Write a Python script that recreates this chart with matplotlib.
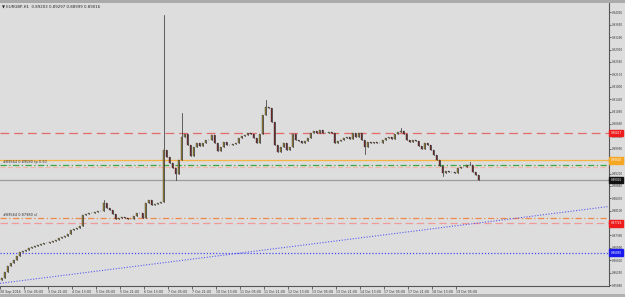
#!/usr/bin/env python3
"""EURGBP H1 - MT4 style screenshot remake"""
import numpy as np
import matplotlib.pyplot as plt
from matplotlib.patches import Rectangle
from matplotlib.transforms import blended_transform_factory

# 2-hour closes (30 Sep 13:00 .. 19 Oct 19:00)
closes = [
    0.86096, 0.86274, 0.86453, 0.86543, 0.86632, 0.86751, 0.86870, 0.86900, 0.86930, 0.86990,
    0.87019, 0.87049, 0.87079, 0.87109, 0.87139, 0.87139, 0.87168, 0.87198, 0.87228, 0.87288,
    0.87317, 0.87347, 0.87407, 0.87526, 0.87556, 0.87586, 0.87645, 0.87973, 0.88003, 0.88033,
    0.88033, 0.88062, 0.88092, 0.88092, 0.88331, 0.88182, 0.88122, 0.88003, 0.87854, 0.87884,
    0.87913, 0.87884, 0.87854, 0.87854, 0.87943, 0.88033, 0.88033, 0.87884, 0.88331, 0.88420,
    0.88271, 0.88301, 0.88331, 0.88360, 0.89910, 0.89701, 0.89523, 0.89374, 0.89195, 0.89612,
    0.90297, 0.90387, 0.90059, 0.89731, 0.89999, 0.90119, 0.90029, 0.90119, 0.90208, 0.90208,
    0.90357, 0.90119, 0.89880, 0.89999, 0.90148, 0.90059, 0.90059, 0.90089, 0.90119, 0.90268,
    0.90327, 0.90357, 0.90417, 0.90387, 0.90268, 0.90119, 0.90387, 0.90953, 0.91191, 0.91162,
    0.90744, 0.90059, 0.89850, 0.89999, 0.90119, 0.89910, 0.89999, 0.90387, 0.90208, 0.90178,
    0.90119, 0.90178, 0.90268, 0.90417, 0.90476, 0.90417, 0.90506, 0.90417, 0.90417, 0.90446,
    0.90417, 0.90119, 0.90178, 0.90208, 0.90268, 0.90297, 0.90238, 0.90417, 0.90297, 0.90417,
    0.90208, 0.89999, 0.90148, 0.90119, 0.90148, 0.90119, 0.90119, 0.90208, 0.90268, 0.90297,
    0.90238, 0.90387, 0.90446, 0.90476, 0.90387, 0.90208, 0.90148, 0.90208, 0.90178, 0.90029,
    0.89940, 0.90119, 0.90059, 0.89910, 0.89761, 0.89612, 0.89433, 0.89225, 0.89284, 0.89254,
    0.89254, 0.89225, 0.89374, 0.89403, 0.89403, 0.89463, 0.89463, 0.89254, 0.89165, 0.89016,
]
first_open = 0.86030

# candles with visible wicks: index, high, low
wick_idx = [34, 54, 58, 60, 88, 121, 133, 147, 156]
wick_high = [0.88420, 0.93933, None, 0.91013, 0.91400, None, 0.90566, None, 0.89552]
wick_low = [None, 0.88360, 0.89016, None, None, 0.89791, None, 0.89135, None]

# horizontal levels
level_prices = [0.90417, 0.89603, 0.89478, 0.89403, 0.89016, 0.87875, 0.87726, 0.86850]
level_colors = ['#e36b6b', '#f5b342', '#3aa845', '#f2b8a8', '#9c9c9c', '#f08a4b', '#f09a9a', '#4a4af0']
level_styles = [(0, (7, 4)), '-', (0, (5, 2, 1, 2)), (0, (4, 2)), '-', (0, (5, 2, 1, 2)), (0, (6, 3)), (0, (1, 1.5))]

# price tags on the axis
tag_prices = [0.90417, 0.89603, 0.89016, 0.87726, 0.86850]
tag_colors = ['#ee1c1c', '#f5a623', '#111111', '#ee1c1c', '#1a1aee']

# trend line (hour index, price)
trend_x = [0, 406]
trend_y = [0.85932, 0.88226]

price_ticks = [0.94020, 0.93650, 0.93280, 0.92910, 0.92540, 0.92170, 0.91800, 0.91430,
               0.91060, 0.90690, 0.90320, 0.89950, 0.89580, 0.89210, 0.88840, 0.88470,
               0.88100, 0.87730, 0.87360, 0.86990, 0.86620, 0.86250, 0.85880]
hidden_ticks = [0.89580, 0.87730]  # sit under the orange / red tags
date_labels = ['30 Sep 2016', '3 Oct 05:00', '3 Oct 21:00', '4 Oct 13:00', '5 Oct 05:00',
               '5 Oct 21:00', '6 Oct 13:00', '7 Oct 05:00', '7 Oct 21:00', '10 Oct 13:00',
               '11 Oct 05:00', '11 Oct 21:00', '12 Oct 13:00', '13 Oct 05:00', '13 Oct 21:00',
               '14 Oct 13:00', '17 Oct 05:00', '17 Oct 21:00', '18 Oct 13:00', '19 Oct 05:00']

bg = '#dddddd'
fig = plt.figure(figsize=(6.25, 2.97), dpi=100, facecolor=bg)
ax = fig.add_axes([0, 1 - 286 / 297, 609 / 625, 283 / 297])
ax.set_facecolor(bg)

hours = np.arange(1, 2 * len(closes), 2)
opens = [first_open] + closes[:-1]

# levels + trend
for p, c, ls in zip(level_prices, level_colors, level_styles):
    ax.axhline(p, color=c, linestyle=ls, linewidth=0.9, zorder=1)
ax.plot(trend_x, trend_y, color='#5a5af0', linestyle=(0, (1, 1.5)), linewidth=0.8, zorder=1)

# wicks
for i, h in enumerate(hours):
    hi = max(opens[i], closes[i])
    lo = min(opens[i], closes[i])
    if i in wick_idx:
        k = wick_idx.index(i)
        if wick_high[k] is not None:
            hi = wick_high[k]
        if wick_low[k] is not None:
            lo = wick_low[k]
    ax.plot([h, h], [lo, hi], color='#2b2b2b', linewidth=0.5, zorder=2)

# bodies
for i, h in enumerate(hours):
    o, c = opens[i], closes[i]
    col = '#b8962a' if c >= o else '#8e2626'
    ax.bar(h, abs(c - o) + 0.00003, bottom=min(o, c), width=1.0, color=col,
           edgecolor='#2b2b2b', linewidth=0.25, zorder=3)

ax.set_xlim(0, 406)
ax.set_ylim(0.85853, 0.94298)

# axes look
for s in ['left', 'top']:
    ax.spines[s].set_visible(False)
for s in ['right', 'bottom']:
    ax.spines[s].set_color('#555555')
    ax.spines[s].set_linewidth(0.8)

ax.yaxis.tick_right()
ax.set_yticks(price_ticks)
ax.set_yticklabels(['' if v in hidden_ticks else f'{v:.5f}' for v in price_ticks])
ax.tick_params(axis='y', length=1.5, width=0.5, colors='#333333', labelsize=2.0, pad=0.5)

ax.set_xticks(np.arange(0, 16 * len(date_labels), 16))
ax.set_xticklabels(date_labels, ha='left')
ax.tick_params(axis='x', length=2, width=0.5, colors='#333333', labelsize=2.3, pad=1)

# price tags
tr = blended_transform_factory(ax.transAxes, ax.transData)
for p, c in zip(tag_prices, tag_colors):
    ax.text(1.003, p, f'{p:.5f}', transform=tr, fontsize=2.0, color='white', va='center',
            ha='left', clip_on=False, zorder=10,
            bbox=dict(boxstyle='square,pad=0.5', facecolor=c, edgecolor=c))

# order labels
ax.text(2, 0.89500, '#89564 0.89580 tp 0.90', fontsize=2.5, color='#333333', va='bottom')
ax.text(2, 0.87900, '#89564 0.87980 sl', fontsize=2.5, color='#333333', va='bottom')

# header + window strips
fig.patches.append(Rectangle((0, 1 - 3 / 297), 1, 3 / 297, transform=fig.transFigure,
                             facecolor='#aaaaaa', edgecolor='none'))
fig.patches.append(Rectangle((0, 0), 1, 3 / 297, transform=fig.transFigure,
                             facecolor='#b0b0b0', edgecolor='none'))
fig.text(2 / 625, 1 - 6 / 297, '\u25bc EURGBP,H1  0.89203 0.89297 0.88999 0.89016',
         fontsize=2.8, color='#222222', va='center')

fig.savefig('out.png', dpi=100, facecolor=bg)
